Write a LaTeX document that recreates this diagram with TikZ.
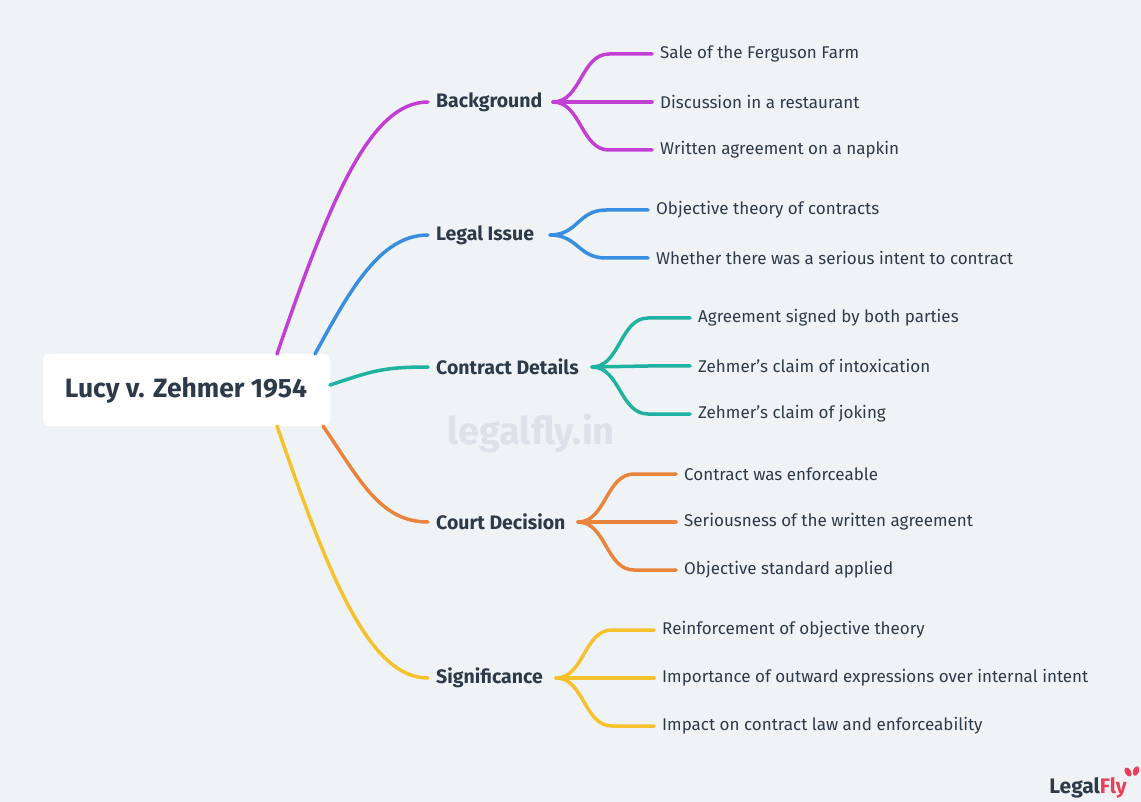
\documentclass[tikz,border=0pt]{standalone}
\usepackage{fontspec}
\setmainfont{Fira Sans}
\definecolor{bg}{HTML}{F0F3F6}
\definecolor{ink}{HTML}{2D3A4A}
\definecolor{cpur}{HTML}{C23FD4}
\definecolor{cblu}{HTML}{3A8EE0}
\definecolor{ctea}{HTML}{20B2A0}
\definecolor{cora}{HTML}{E8843C}
\definecolor{cyel}{HTML}{F5C22E}
\definecolor{wm}{HTML}{DDE2E8}
\definecolor{lfred}{HTML}{E8405A}
\begin{document}
\begin{tikzpicture}[x=1pt,y=-1pt,
  br/.style={anchor=west,font=\fontsize{19.5}{22}\selectfont\bfseries,text=ink,inner sep=0},
  lf/.style={anchor=west,font=\fontsize{17}{19}\selectfont,text=ink,inner sep=0},
  ln/.style={line width=3.5pt,line cap=round}]
\fill[bg] (0,0) rectangle (1141,802);
\useasboundingbox (0,0) rectangle (1141,802);
\node[text=wm,font=\fontsize{38}{40}\selectfont\bfseries] (wmk) at (531,433) {legalfly.in};
\fill[white,rounded corners=6pt] (43,354) rectangle (330,426);
\node[font=\fontsize{26.5}{28}\selectfont\bfseries,text=ink] (root) at (186,390) {Lucy v. Zehmer 1954};
\node[br] (b1) at (436,102) {Background};
\node[br] (b2) at (436,235) {Legal Issue};
\node[br] (b3) at (436,367) {Contract Details};
\node[br] (b4) at (436,522) {Court Decision};
\node[br] (b5) at (436,678) {Significance};
\coordinate (r1) at (277,354); \coordinate (r2) at (315,354); \coordinate (r3) at (330,385);
\coordinate (r4) at (323,426); \coordinate (r5) at (277,426);
\draw[ln,cpur] (r1) .. controls (330,200) and (370,102) .. (428,102);
\draw[ln,cblu] (r2) .. controls (350,290) and (380,235) .. (428,235);
\draw[ln,ctea] (r3) .. controls (370,372) and (380,367) .. (428,367);
\draw[ln,cora] (r4) .. controls (360,480) and (380,522) .. (428,522);
\draw[ln,cyel] (r5) .. controls (330,580) and (370,678) .. (428,678);
\node[lf] (c11) at (660,54) {Sale of the Ferguson Farm};
\node[lf] (c12) at (660,102) {Discussion in a restaurant};
\node[lf] (c13) at (660,150) {Written agreement on a napkin};
\node[lf] (c21) at (656,210) {Objective theory of contracts};
\node[lf] (c22) at (656,258) {Whether there was a serious intent to contract};
\node[lf] (c31) at (698,318) {Agreement signed by both parties};
\node[lf] (c32) at (698,366) {Zehmer's claim of intoxication};
\node[lf] (c33) at (698,414) {Zehmer's claim of joking};
\node[lf] (c41) at (684,474) {Contract was enforceable};
\node[lf] (c42) at (684,522) {Seriousness of the written agreement};
\node[lf] (c43) at (684,570) {Objective standard applied};
\node[lf] (c51) at (662,630) {Reinforcement of objective theory};
\node[lf] (c52) at (662,678) {Importance of outward expressions over internal intent};
\node[lf] (c53) at (662,726) {Impact on contract law and enforceability};
\foreach \sx/\sy/\ex/\col/\ys in {553/102/652/cpur/{54,102,150},550/235/648/cblu/{210,258},592/367/690/ctea/{318,366,414},578/522/676/cora/{474,522,570},556/678/654/cyel/{630,678,726}}{
  \foreach \yy in \ys {
    \draw[ln,\col] (\sx,\sy) .. controls (\sx+28,\sy) and (\sx+28,\yy) .. (\sx+56,\yy) -- (\ex,\yy);
  }
}
\node[anchor=east,inner sep=0,font=\fontsize{21}{23}\selectfont\bfseries] (logo) at (1127,788) {\textcolor{ink}{Legal}\textcolor{lfred}{Fly}};
\fill[lfred,rotate around={30:(1128,772)}] (1128,772) ellipse (3pt and 5pt);
\fill[lfred,rotate around={-20:(1136,771)}] (1136,771) ellipse (3pt and 5pt);
\end{tikzpicture}
\end{document}
